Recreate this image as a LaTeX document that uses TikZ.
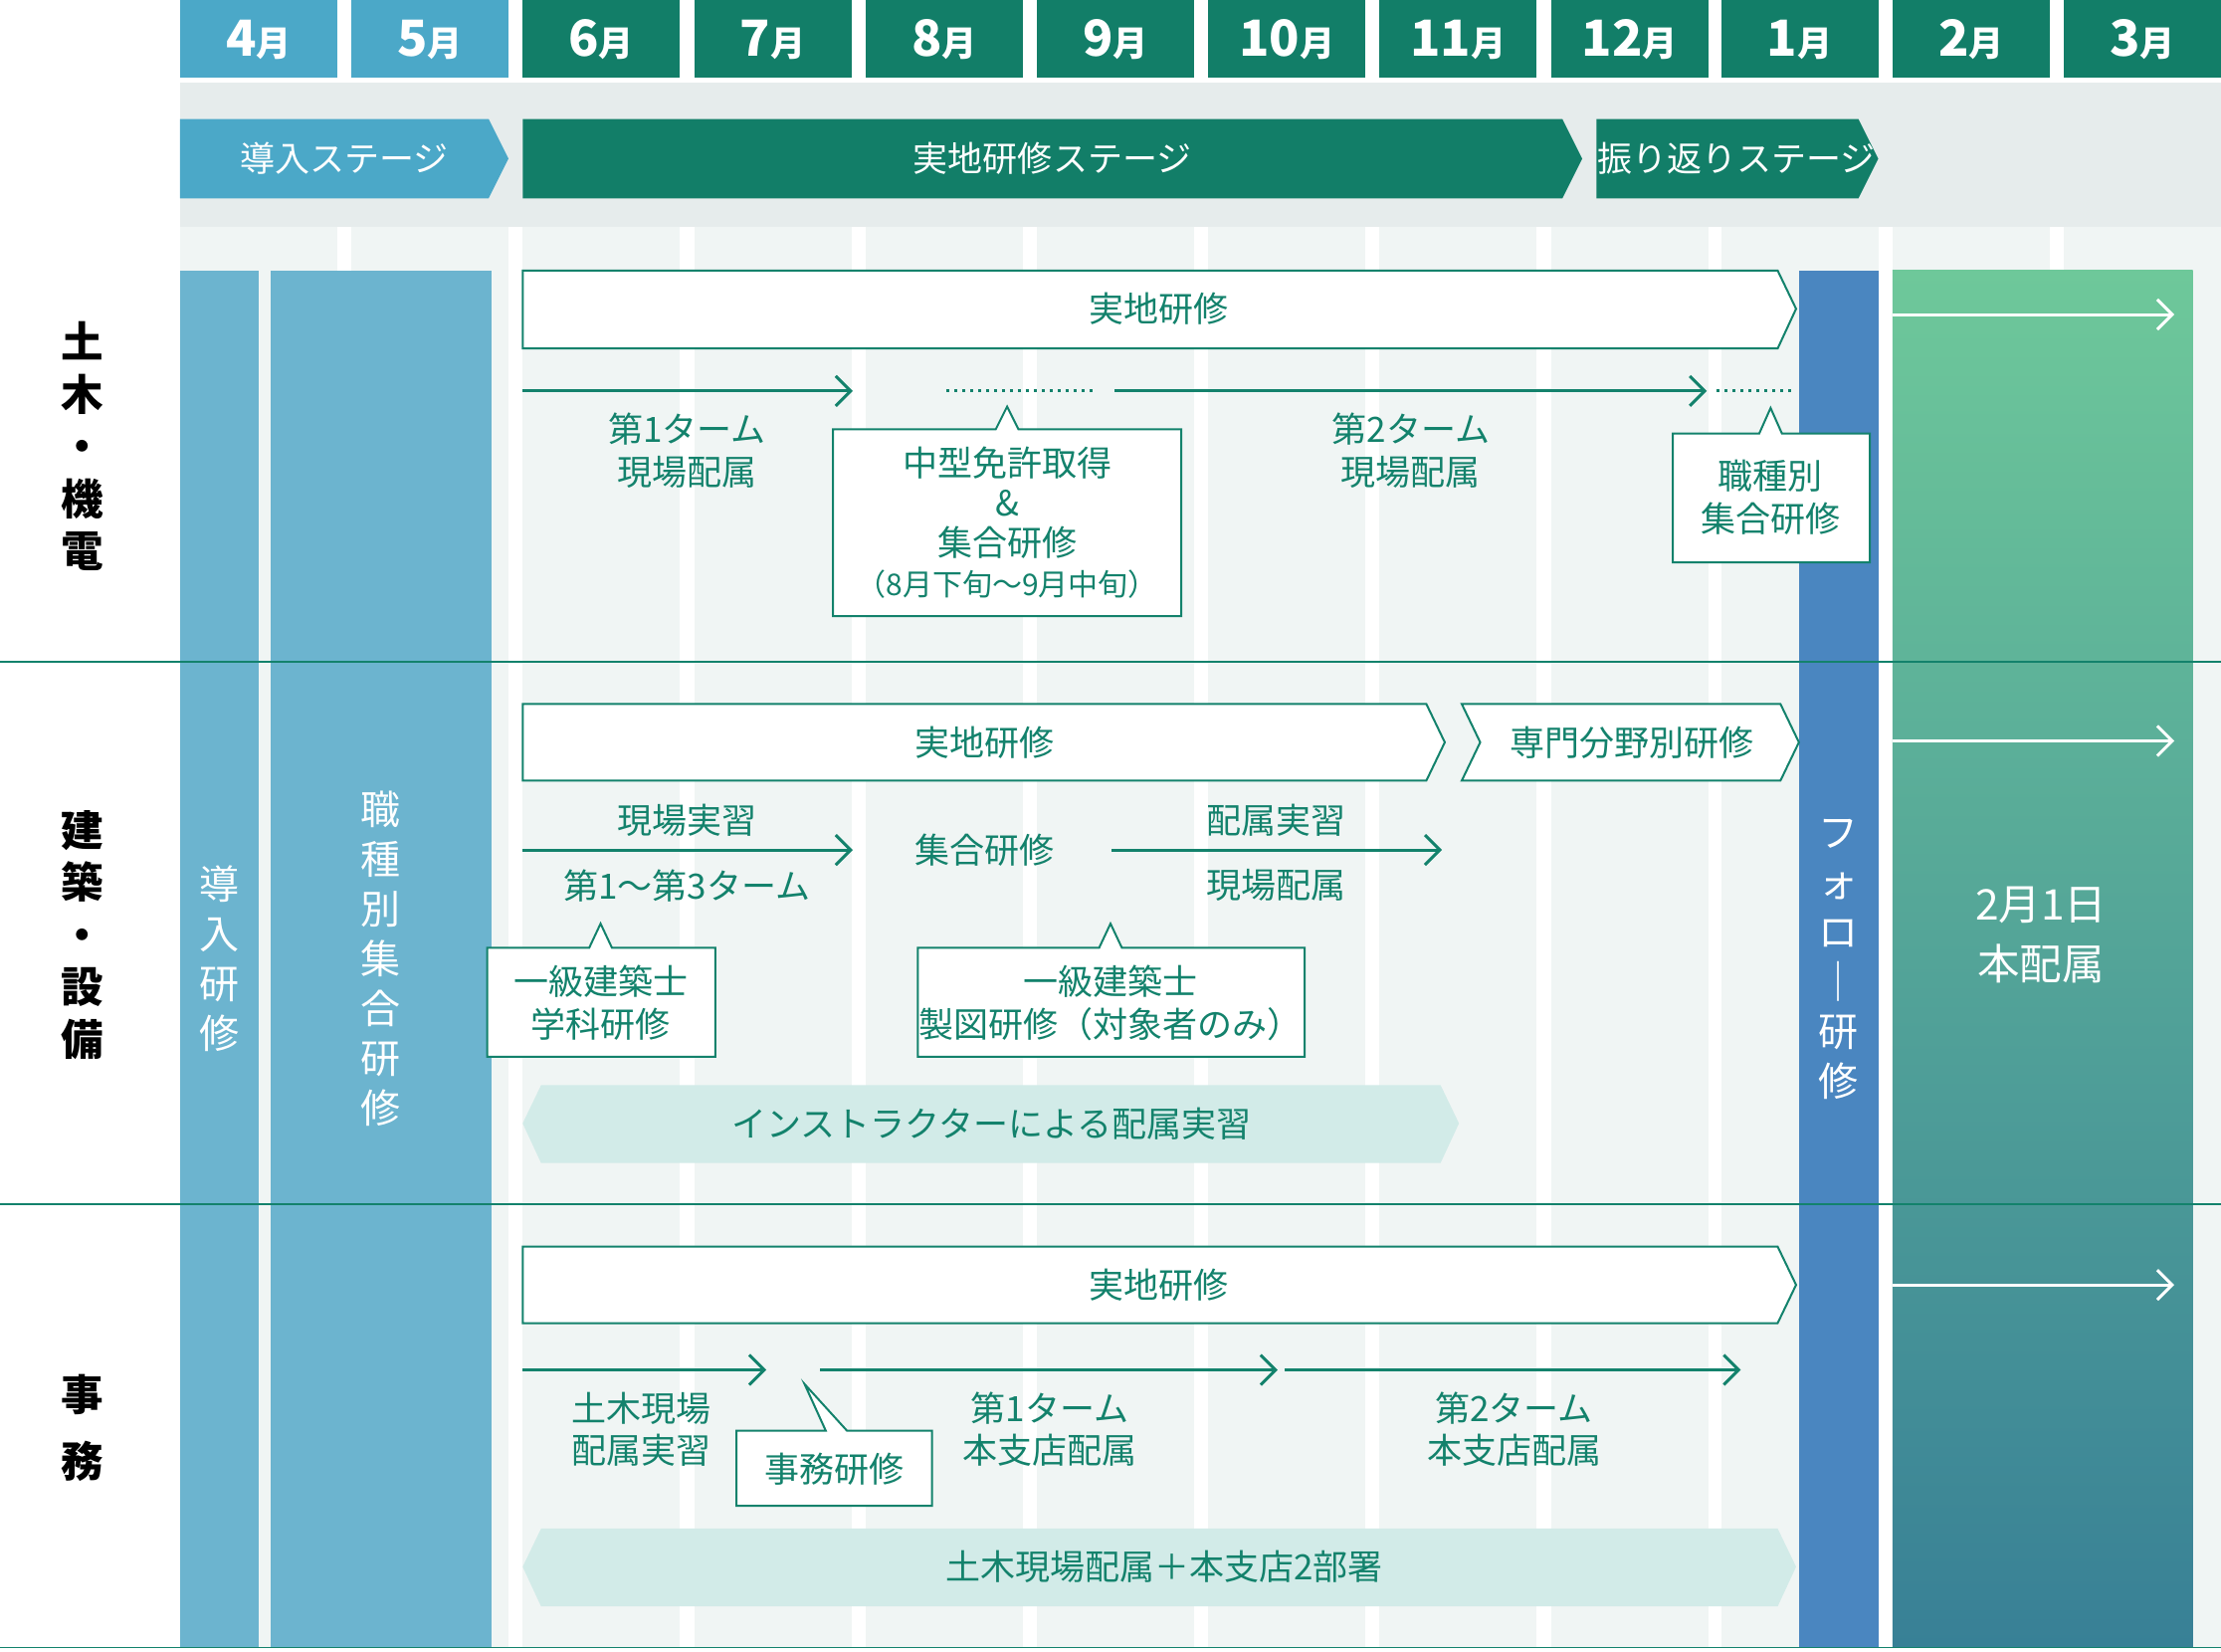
\documentclass[tikz,border=0pt]{standalone}
\usepackage{fontspec}
\setmainfont{Noto Sans CJK JP}
\usetikzlibrary{arrows.meta}
\definecolor{teal}{HTML}{13826C}
\definecolor{dteal}{HTML}{127E68}
\definecolor{lblue}{HTML}{4BA8C8}
\definecolor{bar}{HTML}{6CB4CF}
\definecolor{follow}{HTML}{4A86C0}
\definecolor{band}{HTML}{E6ECEC}
\definecolor{stripe}{HTML}{F0F5F4}
\definecolor{pale}{HTML}{D2EBE8}
\tikzset{
  mon/.style={font=\fontsize{20}{20}\selectfont\bfseries, text=white},
  txt/.style={font=\fontsize{14}{17}\selectfont, text=teal, align=center, inner sep=0},
  box/.style={draw=teal, fill=white, line width=0.8pt},
  arr/.style={draw=teal, line width=1.2pt, -{Straight Barb[length=6pt,width=12pt]}},
  warr/.style={draw=white, line width=1.2pt, -{Straight Barb[length=6pt,width=12pt]}},
  dots/.style={draw=teal, line width=1.2pt, dotted},
  sep/.style={draw=teal, line width=0.6pt},
  vlab/.style={font=\fontsize{17}{21}\selectfont\bfseries, align=center, inner sep=0},
}
\begin{document}
\begin{tikzpicture}[x=0.02cm,y=-0.02cm]
\useasboundingbox (0,0) rectangle (1568,1166);
\fill[white] (0,0) rectangle (1568,1166);
% body stripes
\foreach \x in {127,248,369,490,611,732,853,974,1095,1215,1336,1457}{
  \fill[stripe] (\x,160) rectangle ++(111,1003);
}
\fill[band] (127,58) rectangle (1568,160);
% months
\foreach \x/\m/\c in {127/4/lblue,248/5/lblue,369/6/dteal,490/7/dteal,611/8/dteal,732/9/dteal,853/10/dteal,974/11/dteal,1095/12/dteal,1215/1/dteal,1336/2/dteal,1457/3/dteal}{
  \fill[\c] (\x,0) rectangle ++(111,55);
  \node[mon] at (\x+55.5,28) {\m\fontsize{14}{14}\selectfont 月};
}
% stages
\fill[lblue] (127,84) -- (345,84) -- (359,112) -- (345,140) -- (127,140) -- cycle;
\node[font=\fontsize{14}{14}\selectfont,text=white] (s1) at (243,112) {導入ステージ};
\fill[dteal] (369,84) -- (1103,84) -- (1117,112) -- (1103,140) -- (369,140) -- cycle;
\node[font=\fontsize{14}{14}\selectfont,text=white] (s2) at (743,112) {実地研修ステージ};
\fill[dteal] (1127,84) -- (1312,84) -- (1326,112) -- (1312,140) -- (1127,140) -- cycle;
\node[font=\fontsize{14}{14}\selectfont,text=white] (s3) at (1226,112) {振り返りステージ};
% bars
\fill[bar] (127,191) rectangle (183,1163);
\fill[bar] (191,191) rectangle (347,1163);
\fill[follow] (1270,191) rectangle (1326,1163);
\shade[top color={rgb,255:red,110;green,200;blue,154}, bottom color={rgb,255:red,56;green,128;blue,150}] (1336,191) rectangle (1548,1163);
\node[vlab,text=white,font=\fontsize{16}{20}\selectfont] (b1) at (155,677) {導\\入\\研\\修};
\node[vlab,text=white,font=\fontsize{16}{20}\selectfont] (b2) at (269,677) {職\\種\\別\\集\\合\\研\\修};
\node[vlab,text=white,font=\fontsize{16}{20}\selectfont] (b3) at (1298,677) {フ\\ォ\\ロ\\｜\\研\\修};
\node[text=white,font=\fontsize{17}{24}\selectfont,align=center] (hon) at (1441,660) {2月1日\\本配属};
\coordinate (g1) at (1336,222); \coordinate (g1e) at (1535,222);
\coordinate (g2) at (1336,523); \coordinate (g2e) at (1535,523);
\coordinate (g3) at (1336,907); \coordinate (g3e) at (1535,907);
\draw[warr] (g1) -- (g1e); \draw[warr] (g2) -- (g2e); \draw[warr] (g3) -- (g3e);
% separators
\draw[sep] (0,467) -- (1568,467);
\draw[sep] (0,850) -- (1568,850);
\draw[sep] (0,1163) -- (1568,1163);
% row labels
\node[vlab,text=black] (r1) at (58,315) {土\\木\\・\\機\\電};
\node[vlab,text=black] (r2) at (58,660) {建\\築\\・\\設\\備};
\node[vlab,text=black,font=\fontsize{17}{27}\selectfont\bfseries] (r3) at (58,1008) {事\\務};
% ---------- section 1
\draw[box] (369,191) -- (1255,191) -- (1268,218) -- (1255,246) -- (369,246) -- cycle;
\node[txt] (j1) at (818,218) {実地研修};
\coordinate (a1s) at (369,276); \coordinate (a1e) at (602,276);
\draw[arr] (a1s) -- (a1e);
\coordinate (d1s) at (668,276); \coordinate (d1e) at (772,276);
\draw[dots] (d1s) -- (d1e);
\coordinate (a2s) at (787,276); \coordinate (a2e) at (1205,276);
\draw[arr] (a2s) -- (a2e);
\coordinate (d2s) at (1212,276); \coordinate (d2e) at (1266,276);
\draw[dots] (d2s) -- (d2e);
\node[txt] (t11) at (485,318) {第1ターム\\現場配属};
\draw[box] (588,303) -- (703,303) -- (711,287) -- (719,303) -- (834,303) -- (834,435) -- (588,435) -- cycle;
\node[txt,font=\fontsize{14}{16}\selectfont] (c1) at (711,369) {中型免許取得\\\&\\集合研修\\{\fontsize{12}{14}\selectfont（8月下旬〜9月中旬）}};
\node[txt] (t12) at (996,318) {第2ターム\\現場配属};
\draw[box] (1181,306) -- (1242,306) -- (1250,288) -- (1258,306) -- (1320,306) -- (1320,397) -- (1181,397) -- cycle;
\node[txt] (c2) at (1250,351) {職種別\\集合研修};
% ---------- section 2
\draw[box] (369,497) -- (1007,497) -- (1020,524) -- (1007,551) -- (369,551) -- cycle;
\node[txt] (j2) at (695,524) {実地研修};
\draw[box] (1032,497) -- (1257,497) -- (1270,524) -- (1257,551) -- (1032,551) -- (1045,524) -- cycle;
\node[txt] (sp) at (1152,524) {専門分野別研修};
\coordinate (b1s) at (369,600); \coordinate (b1e) at (602,600);
\draw[arr] (b1s) -- (b1e);
\node[txt] (t21) at (485,579) {現場実習};
\node[txt] (t22) at (485,625) {第1〜第3ターム};
\node[txt] (t23) at (695,600) {集合研修};
\coordinate (b2s) at (785,600); \coordinate (b2e) at (1018,600);
\draw[arr] (b2s) -- (b2e);
\node[txt] (t24) at (901,579) {配属実習};
\node[txt] (t25) at (901,625) {現場配属};
\draw[box] (344,669) -- (416,669) -- (424,652) -- (432,669) -- (505,669) -- (505,746) -- (344,746) -- cycle;
\node[txt] (c3) at (424,708) {一級建築士\\学科研修};
\draw[box] (648,669) -- (776,669) -- (784,652) -- (792,669) -- (921,669) -- (921,746) -- (648,746) -- cycle;
\node[txt] (c4) at (784,708) {一級建築士\\製図研修（対象者のみ）};
\fill[pale] (382,766) -- (1017,766) -- (1030,793) -- (1017,821) -- (382,821) -- (369,793) -- cycle;
\node[txt] (ins) at (700,793) {インストラクターによる配属実習};
% ---------- section 3
\draw[box] (369,880) -- (1255,880) -- (1268,907) -- (1255,934) -- (369,934) -- cycle;
\node[txt] (j3) at (818,907) {実地研修};
\coordinate (e1s) at (369,967); \coordinate (e1e) at (541,967);
\draw[arr] (e1s) -- (e1e);
\coordinate (e2s) at (579,967); \coordinate (e2e) at (902,967);
\draw[arr] (e2s) -- (e2e);
\coordinate (e3s) at (907,967); \coordinate (e3e) at (1229,967);
\draw[arr] (e3s) -- (e3e);
\node[txt] (t31) at (453,1009) {土木現場\\配属実習};
\draw[box] (520,1010) -- (583,1010) -- (568,977) -- (598,1010) -- (658,1010) -- (658,1063) -- (520,1063) -- cycle;
\node[txt] (c5) at (589,1037) {事務研修};
\node[txt] (t32) at (741,1009) {第1ターム\\本支店配属};
\node[txt] (t33) at (1069,1009) {第2ターム\\本支店配属};
\fill[pale] (382,1079) -- (1255,1079) -- (1268,1106) -- (1255,1134) -- (382,1134) -- (369,1106) -- cycle;
\node[txt] (ins2) at (822,1106) {土木現場配属＋本支店2部署};
\end{tikzpicture}
\end{document}
